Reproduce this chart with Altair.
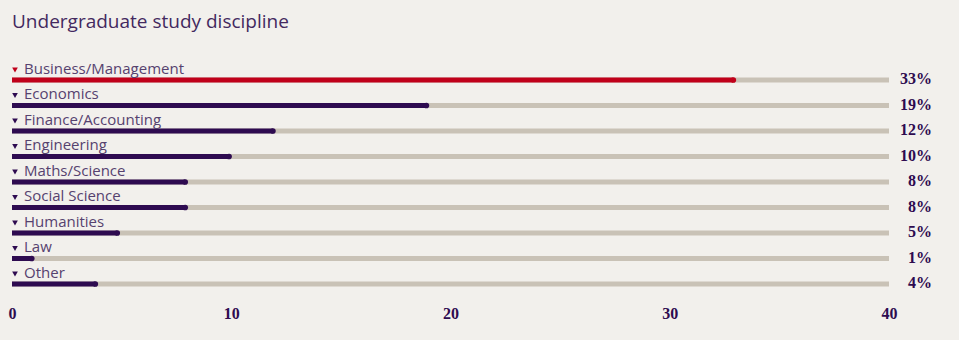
import altair as alt
import pandas as pd

categories = ["Business/Management", "Economics", "Finance/Accounting", "Engineering",
              "Maths/Science", "Social Science", "Humanities", "Law", "Other"]
values = [32.9, 18.9, 11.9, 9.9, 7.9, 7.9, 4.8, 0.9, 3.8]
pct_labels = ["33%", "19%", "12%", "10%", "8%", "8%", "5%", "1%", "4%"]
highlight = ["Business/Management"]
axis_max = 40
tick_values = [0, 10, 20, 30, 40]
title_text = "Undergraduate study discipline"

df = pd.DataFrame({
    "cat": categories,
    "val": values,
    "pct": pct_labels,
    "full": [axis_max] * len(categories),
    "zero": [0] * len(categories),
})
df["hl"] = df["cat"].isin(highlight)

PURPLE = "#2e0b50"
RED = "#c0001a"
GRAY = "#c9c2b6"
TEXT = "#56426f"
BG = "#f2f0ec"

y = alt.Y("cat:N", sort=categories, scale=alt.Scale(type="point", padding=0), axis=None)
x_scale = alt.Scale(domain=[0, axis_max], nice=False, zero=True)
color = alt.condition("datum.hl", alt.value(RED), alt.value(PURPLE))

base = alt.Chart(df)

bg = base.mark_rule(strokeWidth=5, color=GRAY, strokeCap="butt").encode(
    x=alt.X("zero:Q", scale=x_scale,
            axis=alt.Axis(values=tick_values, title=None, domain=False, ticks=False,
                          grid=False, labelPadding=21, labelFont="Liberation Serif",
                          labelFontWeight="bold", labelFontSize=16, labelColor=PURPLE,
                          labelFlush=False)),
    x2="full:Q",
    y=y,
)

bars = base.mark_rule(strokeWidth=5, strokeCap="butt").encode(
    x=alt.X("zero:Q", scale=x_scale),
    x2="val:Q",
    y=y,
    color=color,
)

dots = base.mark_circle(size=32, opacity=1).encode(
    x=alt.X("val:Q", scale=x_scale),
    y=y,
    color=color,
)

carets = base.mark_point(shape="triangle-down", size=32, filled=True, opacity=1,
                         yOffset=-10).encode(
    x=alt.value(3),
    y=y,
    color=color,
)

labels = base.mark_text(align="left", baseline="middle", dy=-11.5, fontSize=15,
                        font="Open Sans", color=TEXT).encode(
    x=alt.value(12),
    y=y,
    text="cat:N",
)

pcts = base.mark_text(align="right", baseline="middle", dy=-1, fontSize=16,
                      font="Liberation Serif", fontWeight="bold", color=PURPLE).encode(
    x=alt.value(920),
    y=y,
    text="pct:N",
)

title = alt.Chart(pd.DataFrame({"t": [title_text]})).mark_text(
    align="left", baseline="middle", fontSize=19, font="Open Sans", color="#43295f"
).encode(
    x=alt.value(0),
    y=alt.value(-58),
    text="t:N",
)

chart = alt.layer(bg, bars, dots, carets, labels, pcts, title).properties(
    width=877,
    height=204,
    autosize=alt.AutoSizeParams(type="none"),
    padding={"left": 12, "top": 80, "right": 70, "bottom": 56},
    background=BG,
).configure_view(stroke=None)

chart.save("out.html", embed_options={"renderer": "svg", "actions": False})
